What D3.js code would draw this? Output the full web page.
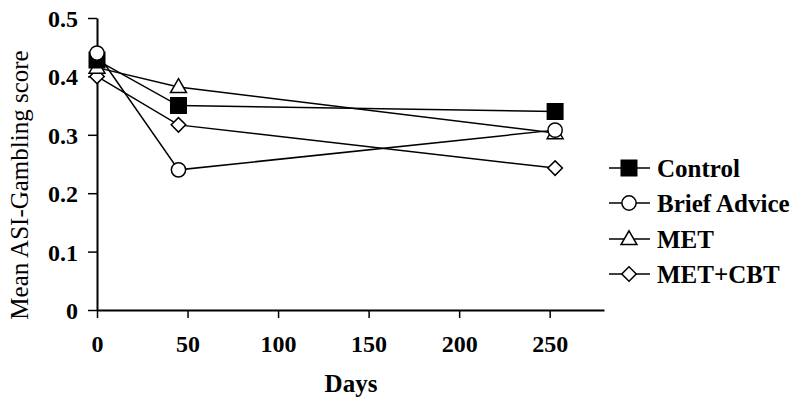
<!DOCTYPE html>
<html>
<head>
<meta charset="utf-8">
<script src="https://cdn.jsdelivr.net/npm/d3@7"></script>
<style>
  body { margin: 0; background: #fff; }
  svg text { font-family: "Liberation Serif", "Times New Roman", serif; fill: #000; }
</style>
</head>
<body>
<div id="chart"></div>
<script>
// data
const days = [0, 45, 253];
const seriesNames = ['Control', 'Brief Advice', 'MET', 'MET+CBT'];
const control = [0.428, 0.350, 0.340];
const briefAdvice = [0.440, 0.240, 0.308];
const met = [0.415, 0.382, 0.303];
const metCbt = [0.400, 0.317, 0.243];
const xTicks = [0, 50, 100, 150, 200, 250];
const yTicks = [0, 0.1, 0.2, 0.3, 0.4, 0.5];

const width = 800, height = 410;
const margin = { top: 18, left: 97, bottom: 100 };
const plotRight = 604;

const svg = d3.select('#chart').append('svg')
  .attr('width', width)
  .attr('height', height);

const x = d3.scaleLinear().domain([0, 280]).range([margin.left, plotRight]);
const y = d3.scaleLinear().domain([0, 0.5]).range([height - margin.bottom, margin.top]);

// axes
const xAxis = svg.append('g')
  .attr('transform', `translate(0, ${y(0)})`)
  .call(d3.axisBottom(x).tickValues(xTicks).tickFormat(d3.format('d')).tickSize(8).tickPadding(12).tickSizeOuter(0));
const yAxis = svg.append('g')
  .attr('transform', `translate(${x(0)}, 0)`)
  .call(d3.axisLeft(y).tickValues(yTicks).tickFormat(d => d === 0 ? '0' : d3.format('.1f')(d)).tickSize(9).tickPadding(10).tickSizeOuter(0));

[xAxis, yAxis].forEach(a => {
  a.select('.domain').attr('stroke', '#000').attr('stroke-width', 2);
  a.selectAll('.tick line').attr('stroke', '#000').attr('stroke-width', 1.5);
  a.selectAll('.tick text')
    .attr('font-size', 24)
    .attr('font-weight', 'bold')
    .attr('font-family', '"Liberation Serif", "Times New Roman", serif');
});
xAxis.selectAll('.tick text').attr('dy', '0.9em');
yAxis.selectAll('.tick text').attr('dy', '0.35em');

// axis titles
svg.append('text')
  .attr('transform', `translate(${28}, ${185}) rotate(-90)`)
  .attr('text-anchor', 'middle')
  .attr('font-size', 25)
  .text('Mean ASI-Gambling score');

svg.append('text')
  .attr('x', 351)
  .attr('y', 392)
  .attr('text-anchor', 'middle')
  .attr('font-size', 25)
  .attr('font-weight', 'bold')
  .text('Days');

// marker shapes (diamond = square turned 45 degrees)
const shapes = {
  'Control': { type: d3.symbolSquare, size: 240, fill: '#000', rot: 0, dy: 0 },
  'Brief Advice': { type: d3.symbolCircle, size: 160, fill: '#fff', rot: 0, dy: 0 },
  'MET': { type: d3.symbolTriangle, size: 110, fill: '#fff', rot: 0, dy: 1 },
  'MET+CBT': { type: d3.symbolSquare, size: 105, fill: '#fff', rot: 45, dy: 0 }
};

const seriesData = [
  { name: 'MET+CBT', values: metCbt },
  { name: 'MET', values: met },
  { name: 'Control', values: control },
  { name: 'Brief Advice', values: briefAdvice }
];

const line = d3.line()
  .x((d, i) => x(days[i]))
  .y(d => y(d));

// lines first, then markers on top
svg.append('g').selectAll('path')
  .data(seriesData).enter().append('path')
  .attr('d', d => line(d.values))
  .attr('fill', 'none')
  .attr('stroke', '#000')
  .attr('stroke-width', 1.5);

seriesData.forEach(s => {
  const sh = shapes[s.name];
  svg.append('g').selectAll('path')
    .data(s.values).enter().append('path')
    .attr('d', d3.symbol().type(sh.type).size(sh.size))
    .attr('transform', (d, i) => `translate(${x(days[i])}, ${y(d) + sh.dy}) rotate(${sh.rot})`)
    .attr('fill', sh.fill)
    .attr('stroke', '#000')
    .attr('stroke-width', 1.5);
});

// legend
const legend = svg.append('g');
const legendY = [168, 203, 239, 274];
seriesNames.forEach((name, i) => {
  const sh = shapes[name];
  const g = legend.append('g').attr('transform', `translate(0, ${legendY[i]})`);
  g.append('line')
    .attr('x1', 609).attr('x2', 650)
    .attr('y1', 0).attr('y2', 0)
    .attr('stroke', '#000')
    .attr('stroke-width', 1.5);
  g.append('path')
    .attr('d', d3.symbol().type(sh.type).size(sh.size))
    .attr('transform', `translate(629, ${sh.dy}) rotate(${sh.rot})`)
    .attr('fill', sh.fill)
    .attr('stroke', '#000')
    .attr('stroke-width', 1.5);
  g.append('text')
    .attr('x', 657)
    .attr('y', 0)
    .attr('dy', '0.35em')
    .attr('font-size', 25)
    .attr('font-weight', 'bold')
    .text(name);
});
</script>
</body>
</html>
